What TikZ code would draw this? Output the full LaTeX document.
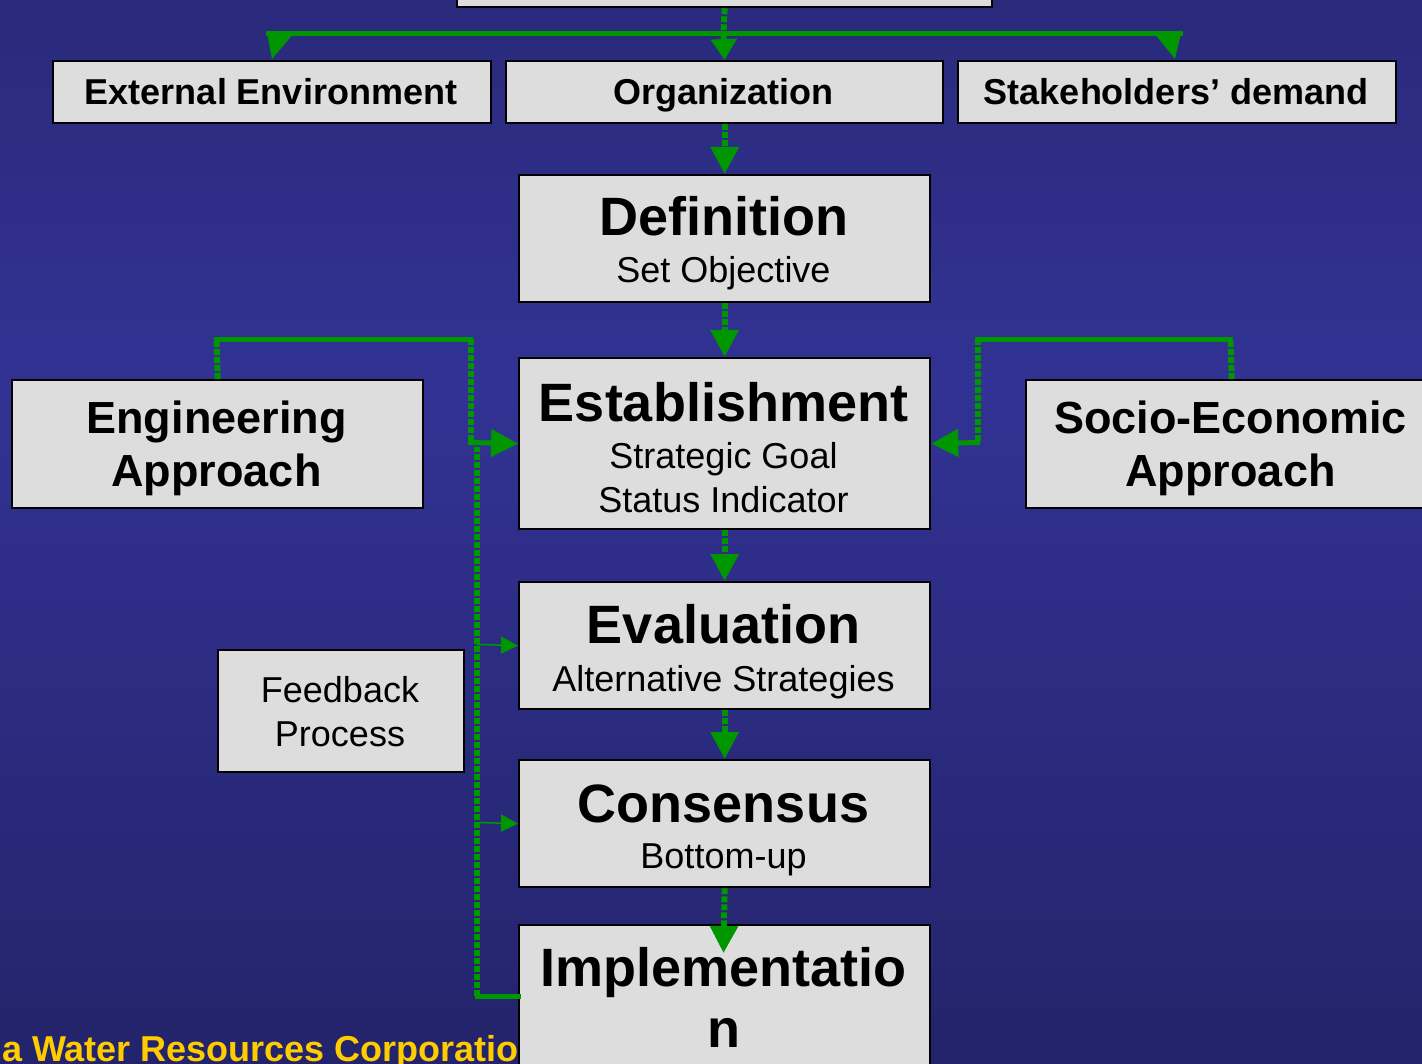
\documentclass[tikz,border=0pt]{standalone}
\usepackage{fontspec}
\setmainfont{Liberation Sans}
\usetikzlibrary{arrows.meta}
\definecolor{bgtop}{RGB}{30,30,88}
\definecolor{bgmid}{RGB}{50,50,148}
\definecolor{bgbot}{RGB}{24,24,74}
\definecolor{boxfill}{RGB}{221,221,221}
\definecolor{arrgreen}{RGB}{0,150,0}
\definecolor{corpyellow}{RGB}{255,204,0}
\pgfdeclareverticalshading{bgshade}{100bp}{color(0bp)=(bgbot); color(57bp)=(bgmid); color(100bp)=(bgtop)}
\begin{document}
\begin{tikzpicture}[x=1pt,y=-1pt,
  box/.style={draw=black,line width=2.3pt,fill=boxfill,inner sep=0pt,anchor=north west},
  tbig/.style={font=\bfseries\fontsize{54}{60}\selectfont,anchor=base,inner sep=0pt},
  tmid/.style={font=\bfseries\fontsize{45}{50}\selectfont,anchor=base,inner sep=0pt},
  tsm/.style={font=\bfseries\fontsize{36}{40}\selectfont,anchor=base,inner sep=0pt},
  treg/.style={font=\fontsize{36}{40}\selectfont,anchor=base,inner sep=0pt},
  vline/.style={draw=arrgreen,line width=6pt,dash pattern=on 6pt off 2pt},
  hline/.style={draw=arrgreen,line width=5pt,line cap=rect},
  bigtip/.style={-{Triangle[width=27pt,length=27pt]}},
  feedarrow/.style={draw=arrgreen,line width=1.5pt,-{Triangle[width=17pt,length=17pt]}}
]
\useasboundingbox (0,0) rectangle (1422,1064);
\clip (0,0) rectangle (1422,1064);
\shade[shading=bgshade] (0,0) rectangle (1422,1064);

\node[font=\bfseries\fontsize{36}{40}\selectfont,text=corpyellow,anchor=base west,inner sep=0pt] (corp) at (2,1061) {a Water Resources Corporation};

% boxes
\node[box,minimum width=535pt,minimum height=66pt] (top) at (456,-60) {};
\node[box,minimum width=438pt,minimum height=62pt] (ext) at (52,60) {};
\node[box,minimum width=437pt,minimum height=62pt] (org) at (505,60) {};
\node[box,minimum width=438pt,minimum height=62pt] (stk) at (957,60) {};
\node[box,minimum width=411pt,minimum height=127pt] (def) at (518,174) {};
\node[box,minimum width=411pt,minimum height=171pt] (est) at (518,357) {};
\node[box,minimum width=411pt,minimum height=128pt] (eng) at (11,379) {};
\node[box,minimum width=411pt,minimum height=128pt] (soc) at (1025,379) {};
\node[box,minimum width=246pt,minimum height=122pt] (fdb) at (217,649) {};
\node[box,minimum width=411pt,minimum height=127pt] (eva) at (518,581) {};
\node[box,minimum width=411pt,minimum height=127pt] (con) at (518,759) {};
\node[box,minimum width=411pt,minimum height=200pt] (imp) at (518,924) {};

% texts
\node[tsm] (extT) at (271,105) {External Environment};
\node[tsm] (orgT) at (723.5,105) {Organization};
\node[tsm] (stkT) at (1176,105) {Stakeholders’ demand};
\node[tbig] (defT) at (723.5,236) {Definition};
\node[treg] (defS) at (723.5,283) {Set Objective};
\node[tbig] (estT) at (723.5,421) {Establishment};
\node[treg] (estS1) at (723.5,468) {Strategic Goal};
\node[treg] (estS2) at (723.5,512) {Status Indicator};
\node[tmid] (engT1) at (216.5,434) {Engineering};
\node[tmid] (engT2) at (216.5,486) {Approach};
\node[tmid] (socT1) at (1230.5,434) {Socio-Economic};
\node[tmid] (socT2) at (1230.5,486) {Approach};
\node[treg] (fdbT1) at (340,702) {Feedback};
\node[treg] (fdbT2) at (340,746) {Process};
\node[tbig] (evaT) at (723.5,643) {Evaluation};
\node[treg] (evaS) at (723.5,691) {Alternative Strategies};
\node[tbig] (conT) at (723.5,822) {Consensus};
\node[treg] (conS) at (723.5,868) {Bottom-up};
\node[tbig] (impT1) at (723.5,986) {Implementatio};
\node[tbig] (impT2) at (723.5,1047) {n};

% top distribution
\coordinate (tj) at (723.5,33);
\coordinate (hl) at (268,33.5);
\coordinate (hr) at (1180,33.5);
\draw[vline] (top.south) -- (tj);
\draw[hline] (hl) -- (hr);
\draw[vline,-{Triangle[width=25pt,length=21pt]}] (tj) -- (org.north);
\coordinate (la) at (267,33);
\coordinate (lb) at (294,33);
\coordinate (lc) at (272,59);
\coordinate (ra) at (1154,33);
\coordinate (rb) at (1181,33);
\coordinate (rc) at (1175,59);
\fill[arrgreen] (la) -- (lb) -- (lc) -- cycle;
\fill[arrgreen] (ra) -- (rb) -- (rc) -- cycle;

% main chain
\draw[vline,bigtip] (org.south) -- (def.north);
\draw[vline,bigtip] (def.south) -- (est.north);
\draw[vline,bigtip] (est.south) -- (eva.north);
\draw[vline,bigtip] (eva.south) -- (con.north);
\coordinate (impin) at (723.5,953);
\draw[vline,bigtip] (con.south) -- (impin);

% engineering approach
\coordinate (e1) at (216.5,339.5);
\coordinate (e2) at (470.5,339.5);
\coordinate (e3) at (470.5,442.5);
\draw[vline] (eng.north) -- (e1);
\draw[hline] (e1) -- (e2);
\draw[vline] (e2) -- (e3);
\draw[hline,bigtip] (e3) -- (est.west);

% socio-economic approach
\coordinate (s1) at (1230.5,339.5);
\coordinate (s2) at (977.5,339.5);
\coordinate (s3) at (977.5,442.5);
\draw[vline] (soc.north) -- (s1);
\draw[hline] (s1) -- (s2);
\draw[vline] (s2) -- (s3);
\draw[hline,bigtip] (s3) -- (est.east);

% feedback loop
\coordinate (f1) at (477,996);
\coordinate (f2) at (477,447);
\coordinate (f3) at (477,644.5);
\coordinate (f4) at (477,822.5);
\draw[hline] (imp.west |- f1) -- (f1);
\draw[vline] (f1) -- (f2);
\draw[feedarrow] (f3) -- (eva.west);
\draw[feedarrow] (f4) -- (con.west);
\end{tikzpicture}
\end{document}
